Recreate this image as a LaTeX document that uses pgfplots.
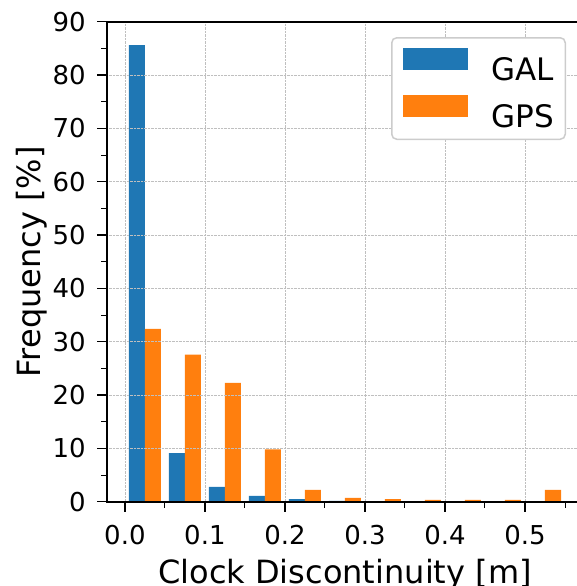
\documentclass[border=0pt]{standalone}
\usepackage{pgfplots}
\pgfplotsset{compat=1.18}
\usepackage{fontspec}
\setmainfont{DejaVu Sans}
\definecolor{tabblue}{HTML}{1F77B4}
\definecolor{taborange}{HTML}{FF7F0E}
\definecolor{legframe}{HTML}{CCCCCC}
\begin{document}
\begin{tikzpicture}
\begin{axis}[
  at={(0pt,0pt)}, anchor=south west,
  scale only axis,
  width=475.3pt, height=480pt,
  xmin=-0.022, xmax=0.572,
  ymin=0, ymax=90,
  axis on top,
  axis line style={line width=1.6pt},
  xtick={0,0.1,0.2,0.3,0.4,0.5},
  minor xtick={0.05,0.15,0.25,0.35,0.45,0.55},
  ytick={0,10,20,30,40,50,60,70,80,90},
  minor ytick={5,15,25,35,45,55,65,75,85},
  tick align=outside,
  tick pos=left,
  major tick length=10pt,
  minor tick length=6pt,
  every tick/.style={black, line width=1.4pt},
  minor tick style={line width=1pt},
  grid=major,
  major grid style={densely dotted, gray!50, line width=0.6pt},
  /pgf/number format/assume math mode=true,
  xticklabel style={/pgf/number format/.cd, fixed, fixed zerofill, precision=1, /tikz/.cd, yshift=-10pt},
  yticklabel style={/pgf/number format/.cd, fixed, precision=0, /tikz/.cd, xshift=-8pt},
  tick label style={font=\fontsize{26}{31}\selectfont},
  label style={font=\fontsize{32}{38}\selectfont},
  xlabel={Clock Discontinuity [m]},
  ylabel={Frequency [\%]},
  xlabel style={at={(axis description cs:0.5,-0.119)}, anchor=north, inner sep=0pt},
  ylabel style={at={(axis description cs:-0.192,0.5)}, anchor=north, inner sep=0pt},
  legend style={
    at={(1,1)}, anchor=north east, xshift=-16.6pt, yshift=-15.3pt,
    font=\fontsize{31}{37}\selectfont,
    draw=legframe, line width=1.5pt, rounded corners=5pt,
    inner xsep=11pt, inner ysep=10pt, row sep=13pt,
    nodes={inner sep=0pt},
    /tikz/every odd column/.append style={column sep=24pt},
  },
  legend cell align=left,
  legend image code/.code={\fill[#1,draw=none,sharp corners] (0pt,0pt) rectangle (65pt,22pt);},
]
\addplot[ybar, bar width=0.02, bar shift=0pt, fill=tabblue, draw=none] coordinates {
(0.015,85.6) (0.065,9.1) (0.115,2.8) (0.165,1.1) (0.215,0.5) (0.265,0.15)
(0.315,0) (0.365,0) (0.415,0) (0.465,0) (0.515,0)
};
\addlegendentry{GAL}
\addplot[ybar, bar width=0.02, bar shift=0pt, fill=taborange, draw=none] coordinates {
(0.035,32.4) (0.085,27.6) (0.135,22.3) (0.185,9.8) (0.235,2.2) (0.285,0.7)
(0.335,0.5) (0.385,0.35) (0.435,0.35) (0.485,0.35) (0.535,2.2)
};
\addlegendentry{GPS}
\end{axis}
\pgfresetboundingbox
\useasboundingbox (-107.3pt,-84.3pt) rectangle (469.7pt,501.7pt);
\end{tikzpicture}
\end{document}
